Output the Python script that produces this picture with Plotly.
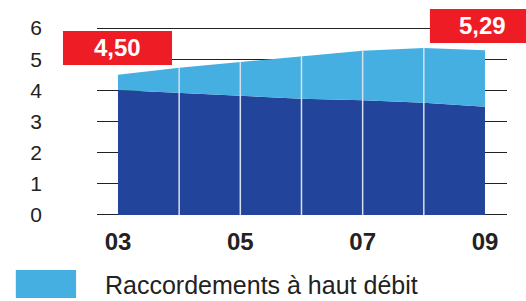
import plotly.graph_objects as go

years = ["03", "04", "05", "06", "07", "08", "09"]
tick_labels = ["03", "05", "07", "09"]
dark_values = [4.01, 3.91, 3.83, 3.73, 3.68, 3.60, 3.47]
light_values = [0.49, 0.82, 1.08, 1.37, 1.59, 1.76, 1.82]
legend_label = "Raccordements à haut débit"

DARK = "#22449A"
LIGHT = "#45AFE2"
RED = "#EE1C25"
FONT = "Liberation Sans, Arial, sans-serif"

xs = list(range(len(years)))
totals = [d + l for d, l in zip(dark_values, light_values)]

fig = go.Figure()
fig.add_trace(go.Scatter(x=xs, y=dark_values, stackgroup="s", mode="lines",
                         line=dict(width=0), fillcolor=DARK, showlegend=False,
                         hoverinfo="skip"))
fig.add_trace(go.Scatter(x=xs, y=light_values, stackgroup="s", mode="lines",
                         line=dict(width=0), fillcolor=LIGHT, showlegend=False,
                         hoverinfo="skip"))

# white separators inside the area
for i in xs[1:-1]:
    fig.add_shape(type="line", xref="x", yref="y", x0=i, x1=i, y0=0, y1=totals[i],
                  line=dict(color="#D8E0EE", width=1.5), layer="above")

def fmt(v):
    return f"{v:.2f}".replace(".", ",")

# red value boxes
fig.add_shape(type="rect", xref="paper", yref="paper", x0=-0.083, x1=0.183,
              y0=0.793, y1=0.969, fillcolor=RED, line=dict(width=0), layer="above")
fig.add_annotation(xref="paper", yref="paper", x=0.05, y=0.881, text=f"<b>{fmt(totals[0])}</b>",
                   showarrow=False, font=dict(family=FONT, size=24, color="white"),
                   xanchor="center", yanchor="middle")
fig.add_shape(type="rect", xref="paper", yref="paper", x0=0.812, x1=1.05,
              y0=0.907, y1=1.083, fillcolor=RED, line=dict(width=0), layer="above")
fig.add_annotation(xref="paper", yref="paper", x=0.941, y=0.995, text=f"<b>{fmt(totals[-1])}</b>",
                   showarrow=False, font=dict(family=FONT, size=24, color="white"),
                   xanchor="center", yanchor="middle")

# legend
fig.add_shape(type="rect", xref="paper", yref="paper", x0=-0.198, x1=-0.051,
              y0=-0.415, y1=-0.269, fillcolor=LIGHT, line=dict(width=0))
fig.add_annotation(xref="paper", yref="paper", x=0.0146, y=-0.347, text=legend_label,
                   showarrow=False, font=dict(family=FONT, size=25, color="#222222"),
                   xanchor="left", yanchor="middle")

fig.update_layout(
    width=526, height=301,
    margin=dict(l=97, r=19, t=25, b=83),
    paper_bgcolor="white", plot_bgcolor="white",
    showlegend=False,
    xaxis=dict(range=[-0.343, 6.36], tickvals=[0, 2, 4, 6], ticktext=tick_labels,
               showgrid=False, zeroline=False, showline=False, ticks="",
               tickfont=dict(family=FONT, size=24, color="#222222", weight="bold"),
               ticklabelstandoff=7),
    yaxis=dict(range=[-0.1, 6.1], tickvals=[0, 1, 2, 3, 4, 5, 6], showgrid=True,
               gridcolor="#222222", gridwidth=1, zeroline=False, showline=False, ticks="",
               tickfont=dict(family=FONT, size=21, color="#222222"),
               ticklabelstandoff=54),
)

fig.write_html("out.html", config={"displayModeBar": False},
               post_script="document.body.style.margin='0';document.body.style.overflow='hidden';")
